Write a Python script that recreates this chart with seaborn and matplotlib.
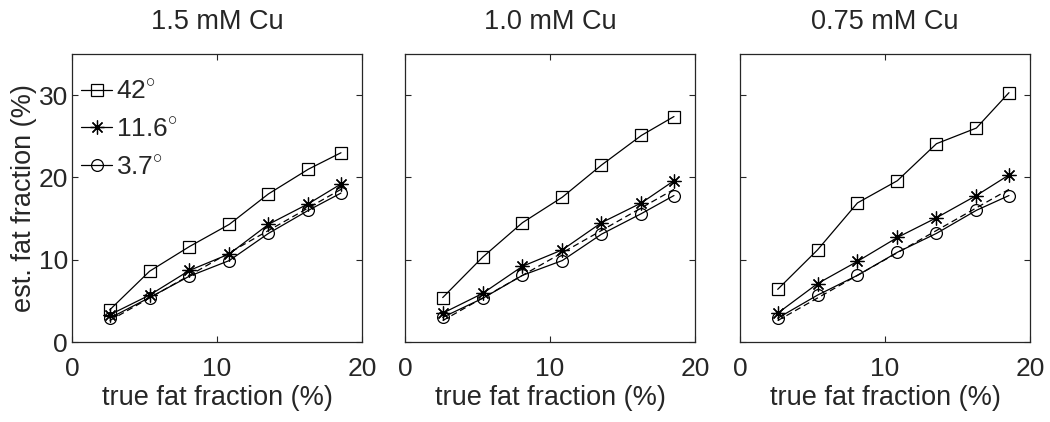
import matplotlib
matplotlib.use("Agg")
import matplotlib.pyplot as plt
import seaborn as sns

sns.set_style("ticks")
plt.rcParams['font.family'] = ['Liberation Sans', 'DejaVu Sans']
plt.rcParams['mathtext.fontset'] = 'custom'
plt.rcParams['mathtext.rm'] = 'Liberation Sans'

titles = ["1.5 mM Cu", "1.0 mM Cu", "0.75 mM Cu"]
angle_labels = ["42$^{\\circ}$", "11.6$^{\\circ}$", "3.7$^{\\circ}$"]
true_ff = [2.6, 5.35, 8.1, 10.85, 13.55, 16.3, 18.55]

# panel 1: 1.5 mM Cu
p1_42 = [3.9, 8.6, 11.6, 14.3, 18.0, 21.0, 23.0]
p1_116 = [3.3, 5.7, 8.7, 10.7, 14.3, 16.8, 19.2]
p1_37 = [2.9, 5.4, 8.0, 9.9, 13.2, 16.0, 18.1]
# panel 2: 1.0 mM Cu
p2_42 = [5.4, 10.3, 14.5, 17.6, 21.5, 25.1, 27.4]
p2_116 = [3.5, 5.9, 9.2, 11.2, 14.5, 16.9, 19.6]
p2_37 = [3.0, 5.3, 8.1, 9.9, 13.1, 15.6, 17.8]
# panel 3: 0.75 mM Cu
p3_42 = [6.4, 11.2, 16.9, 19.6, 24.1, 26.0, 30.3]
p3_116 = [3.5, 7.1, 9.8, 12.7, 15.1, 17.8, 20.3]
p3_37 = [2.9, 5.7, 8.1, 10.9, 13.2, 16.0, 17.8]

panels = [[p1_42, p1_116, p1_37], [p2_42, p2_116, p2_37], [p3_42, p3_116, p3_37]]
markers = ['s', (8, 2, 0), 'o']
msizes = [8.5, 10, 8.5]

fig = plt.figure(figsize=(10.5, 4.22), dpi=100)
lefts = [72 / 1050, 405 / 1050, 740 / 1050]
w = 290 / 1050
b = (422 - 342) / 422
h = 288 / 422

for i, (left, series) in enumerate(zip(lefts, panels)):
    ax = fig.add_axes([left, b, w, h])
    # identity line
    sns.lineplot(x=true_ff, y=true_ff, ax=ax, color='k', lw=0.9)
    ax.lines[-1].set_linestyle((0, (5, 3)))
    for ys, mk, ms, lab in zip(series, markers, msizes, angle_labels):
        sns.lineplot(x=true_ff, y=ys, ax=ax, color='k', lw=0.9,
                     marker=mk, markersize=ms, markerfacecolor='none',
                     markeredgecolor='k', markeredgewidth=0.9, label=lab)
    ax.set_xlim(0, 20)
    ax.set_ylim(0, 35)
    ax.set_xticks([0, 10, 20])
    ax.set_yticks([0, 10, 20, 30])
    ax.tick_params(direction='in', top=True, right=True, length=4,
                   labelsize=19, width=0.8)
    ax.tick_params(axis='x', pad=10.5)
    ax.tick_params(axis='y', pad=3)
    for sp in ax.spines.values():
        sp.set_linewidth(0.9)
    ax.set_title(titles[i], fontsize=19.5, pad=18)
    ax.set_xlabel("true fat fraction (%)", fontsize=19.5, labelpad=3)
    if i == 0:
        ax.set_ylabel("est. fat fraction (%)", fontsize=19.5, labelpad=1)
        ax.legend(loc='upper left', bbox_to_anchor=(0.03, 0.912),
                  frameon=False, fontsize=19,
                  handlelength=1.2, handletextpad=0.15, labelspacing=0.5,
                  borderaxespad=0, borderpad=0)
    else:
        ax.set_yticklabels([])
        if ax.get_legend():
            ax.get_legend().remove()

fig.savefig("out.png", dpi=100)
